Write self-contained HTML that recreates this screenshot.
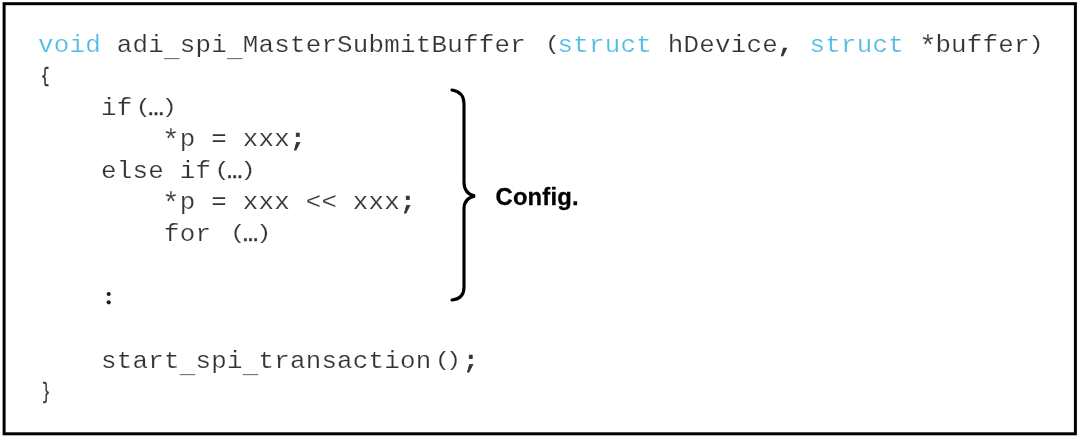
<!DOCTYPE html>
<html><head><meta charset="utf-8">
<style>
html,body{margin:0;padding:0;background:#fff;width:1080px;height:439px;overflow:hidden;}
.code{position:absolute;left:37.5px;top:0;transform:scaleX(1.1);transform-origin:0 0;font-family:"Liberation Mono",monospace;font-size:23.5px;letter-spacing:0.209px;color:#333;-webkit-text-stroke:0.2px #fff;white-space:pre;}
.ln{position:absolute;left:0;white-space:pre;height:32px;line-height:32px;}
.kw{color:#4fbde2;}
.u{position:relative;top:5px;}
.e{-webkit-text-stroke:0.5px #333;}
.b{-webkit-text-stroke:0.7px #333;}
.lp,.rp,.rq,.lb,.rb,.st{display:inline-block;}
.lb,.rb{-webkit-text-stroke:0.7px #333;}
.lp{transform:translate(2.8px,-0.8px) scaleY(0.87);}
.rp{transform:translate(-1.4px,-0.8px) scaleY(0.87);}
.rq{transform:translate(-2.3px,-0.8px) scaleY(0.87);}
.lb{transform:translate(-0.6px,-1.3px) scale(0.54,0.87);}
.rb{transform:translate(0.35px,-1.1px) scale(0.5,0.9);}
.st{transform:translate(-1.1px,2.3px) scale(1.15,1.25);}
.cfg{position:absolute;left:495.5px;top:183.2px;font-family:"Liberation Sans",sans-serif;font-weight:bold;font-size:23.8px;letter-spacing:0.2px;color:#000;-webkit-text-stroke:0.3px #000;}
svg{position:absolute;left:0;top:0;}
</style></head><body>
<div class="code">
<div class="ln" style="top:30.0px"><span class="kw">void</span> adi<span class="u">_</span>spi<span class="u">_</span>MasterSubmitBuffer <span class="lp">(</span><span class="kw">struct</span> hDevice<span class="b">,</span> <span class="kw">struct</span> <span class="st" style="margin-left:1.6px;margin-right:-1.6px">*</span>buffer<span class="rp">)</span></div>
<div class="ln" style="top:61.6px"><span class="lb">{</span></div>
<div class="ln" style="top:92.6px">    if<span class="lp">(</span><span class="e">…</span><span class="rq">)</span></div>
<div class="ln" style="top:124.2px">        <span class="st">*</span>p = xxx<span class="b">;</span></div>
<div class="ln" style="top:155.8px">    else if<span class="lp">(</span><span class="e">…</span><span class="rq">)</span></div>
<div class="ln" style="top:187.4px">        <span class="st">*</span>p = xxx &lt;&lt; xxx<span class="b">;</span></div>
<div class="ln" style="top:219.0px">        for <span class="lp">(</span><span class="e">…</span><span class="rq">)</span></div>
<div class="ln" style="top:345.6px">    start<span class="u">_</span>spi<span class="u">_</span>transaction<span class="lp">(</span><span class="rp">)</span><span class="b">;</span></div>
<div class="ln" style="top:377.6px"><span class="rb">}</span></div>
</div>
<svg width="1080" height="439" viewBox="0 0 1080 439">
<rect x="4.1" y="3.7" width="1071.3" height="430.1" fill="none" stroke="#000" stroke-width="3"/>
<path d="M452 90 Q464 92 464 104 L464 182 Q464 194 475 196 Q464 198 464 209 L464 287 Q464 299 452 300" fill="none" stroke="#000" stroke-width="3.1" stroke-linecap="round"/>
<circle cx="108.7" cy="294" r="2.1" fill="#1a1a1a"/>
<circle cx="108.7" cy="302.3" r="2.1" fill="#1a1a1a"/>
</svg>
<div class="cfg">Config.</div>
</body></html>
